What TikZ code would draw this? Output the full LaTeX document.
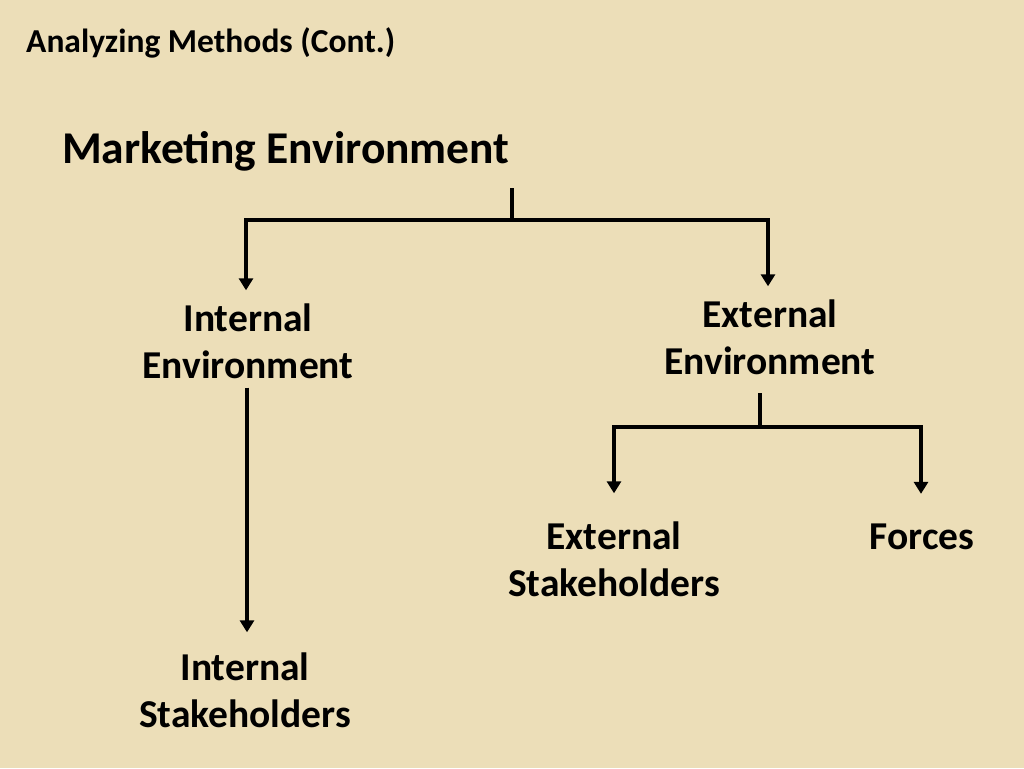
\documentclass[tikz,border=0pt]{standalone}
\usepackage{fontspec}
\setmainfont{Carlito}
\usetikzlibrary{arrows.meta}
\definecolor{bg}{RGB}{236,222,184}
\begin{document}
\begin{tikzpicture}[x=1pt,y=-1pt,
  lbl/.style={font=\bfseries\fontsize{39.5}{47}\selectfont, align=center, inner sep=0pt},
  conn/.style={line width=3.5pt},
  arr/.style={conn,-{Triangle[width=14pt,length=12pt]}}]
\fill[bg] (0,0) rectangle (1024,768);
\useasboundingbox (0,0) rectangle (1024,768);
\node[anchor=west, font=\bfseries\fontsize{33.5}{38}\selectfont, inner sep=0pt] (title) at (26,43) {Analyzing Methods (Cont.)};
\node[anchor=west, font=\bfseries\fontsize{45.5}{50}\selectfont, inner sep=0pt] (mkt) at (62,151) {Marketing Environment};
\node[lbl] (ie) at (248,341) {Internal\\Environment};
\node[lbl] (ee) at (770,337) {External\\Environment};
\node[lbl] (is) at (245,690) {Internal\\Stakeholders};
\node[lbl] (es) at (614,559) {External\\Stakeholders};
\node[lbl] (fo) at (922,537) {Forces};
\coordinate (s1) at (512,188);
\coordinate (j1) at (512,220);
\coordinate (s2) at (760,393);
\coordinate (j2) at (760,427);
\draw[conn] (s1) -- (j1);
\draw[arr,shorten >=13pt] (j1) -| ([xshift=-2pt]ie.north);
\draw[arr,shorten >=13pt] (j1) -| ([xshift=-2pt]ee.north);
\draw[arr,shorten <=9pt,shorten >=20pt] ([xshift=-1pt]ie.south) -- ([xshift=-1pt]ie.south |- is.north);
\draw[conn] (s2) -- (j2);
\draw[arr,shorten >=28pt] (j2) -| (es.north);
\draw[arr,shorten >=30pt] (j2) -| ([xshift=-1pt]fo.north);
\end{tikzpicture}
\end{document}
